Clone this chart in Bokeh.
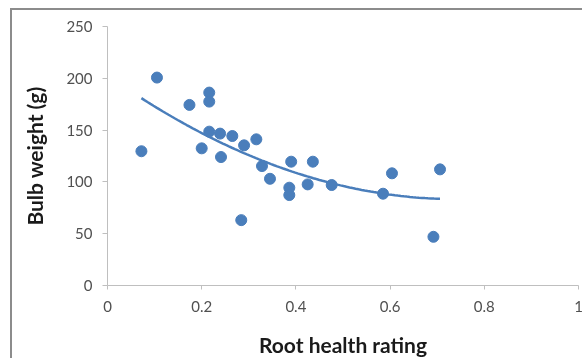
import numpy as np
from bokeh.plotting import figure
from bokeh.models import FixedTicker, CustomJSTickFormatter
from bokeh.embed import file_html
from bokeh.resources import INLINE

# Root health rating (x) and bulb weight in g (y)
root_health = [0.072, 0.105, 0.174, 0.216, 0.216, 0.216, 0.239, 0.265, 0.200, 0.241,
               0.290, 0.316, 0.328, 0.345, 0.390, 0.386, 0.386, 0.436, 0.425, 0.476,
               0.284, 0.604, 0.706, 0.692, 0.585]
bulb_weight = [129.6, 200.7, 174.3, 186.2, 177.5, 148.5, 146.6, 144.3, 132.4, 124.0,
               135.3, 141.1, 115.3, 103.0, 119.5, 94.4, 87.3, 119.5, 97.6, 97.0,
               63.1, 108.3, 112.1, 47.0, 88.6]

x_ticks = [0, 0.2, 0.4, 0.6, 0.8, 1]
y_ticks = [0, 50, 100, 150, 200, 250]

# second-order polynomial trendline (as in the spreadsheet chart)
coef = np.polyfit(root_health, bulb_weight, 2)
tx = np.linspace(min(root_health), max(root_health), 100)
ty = np.polyval(coef, tx)

FONT = "Lato"
BLUE = "#4a7ebb"
AXIS = "#bfbfbf"

p = figure(width=572, height=350, x_range=(0, 1), y_range=(0, 250),
           output_backend="svg", toolbar_location=None,
           min_border_left=95, min_border_right=6, min_border_top=16, min_border_bottom=75)
p.styles = {"position": "fixed", "left": "12px", "top": "10px",
            "box-shadow": "-2px -2px 0px 0px #8c8c8c"}
p.outline_line_color = None
p.grid.visible = False

p.line(tx, ty, line_color=BLUE, line_width=2.5)
p.scatter(root_health, bulb_weight, size=11, fill_color=BLUE, line_color=BLUE)

for ax in (p.xaxis[0], p.yaxis[0]):
    ax.axis_line_color = AXIS
    ax.major_tick_line_color = AXIS
    ax.minor_tick_line_color = None
    ax.major_tick_in = 0
    ax.major_label_text_font = FONT
    ax.major_label_text_font_size = "15px"
    ax.major_label_text_color = "#505050"
    ax.axis_label_text_font = FONT
    ax.axis_label_text_font_size = "21px"
    ax.axis_label_text_font_style = "bold"
    ax.axis_label_text_color = "#1a1a1a"

p.xaxis.ticker = FixedTicker(ticks=x_ticks)
p.yaxis.ticker = FixedTicker(ticks=y_ticks)
p.xaxis.formatter = CustomJSTickFormatter(code="return String(Math.round(tick*10)/10)")
p.xaxis.major_tick_out = 4
p.yaxis.major_tick_out = 5
p.xaxis.major_label_standoff = 11
p.yaxis.major_label_standoff = 10
p.xaxis.axis_label = "Root health rating"
p.yaxis.axis_label = "Bulb weight (g)"
p.xaxis.axis_label_standoff = 17
p.yaxis.axis_label_standoff = 16

open("out.html", "w").write(file_html(p, INLINE))
